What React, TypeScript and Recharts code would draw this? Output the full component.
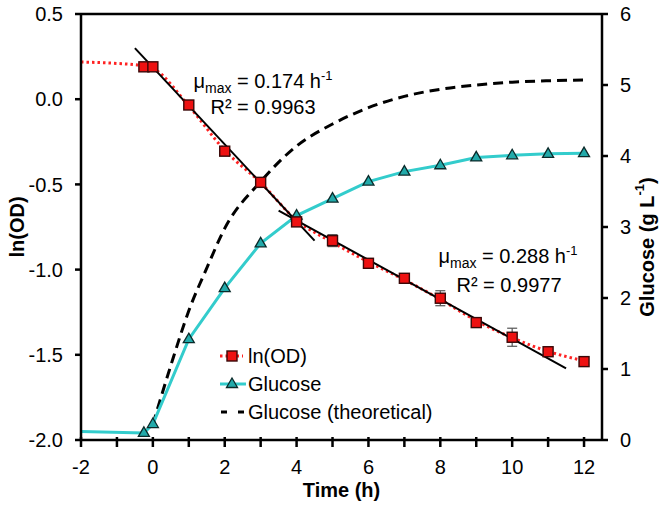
import React from 'react';
import { ComposedChart, Line, XAxis, YAxis, ReferenceLine, ErrorBar, Customized } from 'recharts';

const FONT = '"Liberation Sans", Arial, sans-serif';

// ln(OD) measurements
const odTime = [-0.25, 0, 1, 2, 3, 4, 5, 6, 7, 8, 9, 10, 11, 12];
const odValues = [0.19, 0.19, -0.034, -0.305, -0.488, -0.72, -0.83, -0.963, -1.051, -1.168, -1.311, -1.397, -1.482, -1.54];
const odErrors = [0, 0, 0, 0, 0, 0, 0.035, 0.01, 0.01, 0.044, 0.02, 0.053, 0.01, 0];

// ln(OD) model curve (dotted)
const odCurveTime = [-2, -1, -0.25, 0, 1, 2, 3, 4, 5, 6, 7, 8, 9, 10, 11, 12];
const odCurveValues = [0.218, 0.21, 0.195, 0.18, -0.04, -0.3, -0.49, -0.71, -0.84, -0.955, -1.06, -1.175, -1.3, -1.4, -1.48, -1.535];

// linear fits
const fit1Time = [-0.5, 4.5];
const fit1Values = [0.3, -0.83];
const fit2Time = [3.5, 11.5];
const fit2Values = [-0.654, -1.579];

// Glucose measured
const glucoseTime = [-2, -0.25, 0, 1, 2, 3, 4, 5, 6, 7, 8, 9, 10, 11, 12];
const glucoseValues = [0.12, 0.1, 0.225, 1.42, 2.14, 2.77, 3.16, 3.4, 3.64, 3.78, 3.87, 3.98, 4.01, 4.03, 4.04];

// Glucose theoretical
const theoTime = [0, 0.5, 1, 1.5, 2, 3, 4, 5, 6, 7, 8, 9, 10, 11, 12];
const theoValues = [0.22, 1.05, 1.82, 2.42, 2.98, 3.64, 4.14, 4.45, 4.68, 4.84, 4.94, 5.0, 5.04, 5.06, 5.07];

const xTicks = [-2, -1, 0, 1, 2, 3, 4, 5, 6, 7, 8, 9, 10, 11, 12];
const leftTicks = [-2, -1.5, -1, -0.5, 0, 0.5];
const rightTicks = [0, 1, 2, 3, 4, 5, 6];

const odPoints = odTime.map((t, i) => ({ t, v: odValues[i], e: odErrors[i] }));
const odCurve = odCurveTime.map((t, i) => ({ t, v: odCurveValues[i] }));
const fit1 = fit1Time.map((t, i) => ({ t, v: fit1Values[i] }));
const fit2 = fit2Time.map((t, i) => ({ t, v: fit2Values[i] }));
const glucose = glucoseTime.map((t, i) => ({ t, v: glucoseValues[i] }));
const theo = theoTime.map((t, i) => ({ t, v: theoValues[i] }));

const RED = '#ee1111';
const RED_LINE = '#ff2222';
const CYAN = '#33cccc';
const TEAL = '#22aaaa';

const XTick = (props: any) => {
  const { x, y, payload } = props;
  const v = payload.value;
  return (
    <g>
      <line x1={x} x2={x} y1={y - 5} y2={y + 5} stroke="#000" strokeWidth={2.5} />
      {v % 2 === 0 && (
        <text x={x} y={y + 32} textAnchor="middle" fontSize={20} fill="#000" fontFamily={FONT}>
          {v}
        </text>
      )}
    </g>
  );
};

const SquareDot = (props: any) => {
  const { cx, cy, index } = props;
  if (cx == null || cy == null) return <g key={`s${index}`} />;
  return <rect key={`s${index}`} x={cx - 5} y={cy - 5} width={10} height={10} fill={RED} stroke="#3a0808" strokeWidth={1.4} />;
};

const triPath = (x: number, y: number) => `M${x},${y - 6} L${x + 5.5},${y + 3.5} L${x - 5.5},${y + 3.5} Z`;

const TriDot = (props: any) => {
  const { cx, cy, index, payload } = props;
  if (cx == null || cy == null || (payload && payload.t < -1)) return <g key={`g${index}`} />;
  return <path key={`g${index}`} d={triPath(cx, cy)} fill={TEAL} stroke="#0a2a2a" strokeWidth={1.3} />;
};

const Annotations = () => (
  <g fontFamily={FONT} fill="#000">
    <text x={17} y={227} transform="rotate(-90 17 227)" textAnchor="middle" dominantBaseline="central" fontSize={20} fontWeight="bold">
      ln(OD)
    </text>
    <text x={647} y={247} transform="rotate(-90 647 247)" textAnchor="middle" dominantBaseline="central" fontSize={20} fontWeight="bold">
      Glucose (g L<tspan fontSize={13} dy={-8}>-1</tspan>
      <tspan dy={8}>)</tspan>
    </text>
    <text x={341.5} y={497} textAnchor="middle" fontSize={20} fontWeight="bold">
      Time (h)
    </text>

    <text x={263} y={88} textAnchor="middle" fontSize={20}>
      μ<tspan fontSize={14} dy={5}>max</tspan>
      <tspan dy={-5}> = 0.174 h</tspan>
      <tspan fontSize={13} dy={-8}>-1</tspan>
    </text>
    <text x={263} y={114} textAnchor="middle" fontSize={20}>
      R² = 0.9963
    </text>
    <text x={508} y={263} textAnchor="middle" fontSize={20}>
      μ<tspan fontSize={14} dy={5}>max</tspan>
      <tspan dy={-5}> = 0.288 h</tspan>
      <tspan fontSize={13} dy={-8}>-1</tspan>
    </text>
    <text x={509} y={292} textAnchor="middle" fontSize={20}>
      R² = 0.9977
    </text>

    {/* legend */}
    <line x1={220} x2={243} y1={356} y2={356} stroke={RED_LINE} strokeWidth={3} strokeDasharray="2.5 3" />
    <rect x={227} y={351} width={10} height={10} fill={RED} stroke="#3a0808" strokeWidth={1.4} />
    <text x={248} y={363} fontSize={20}>ln(OD)</text>

    <line x1={220} x2={246} y1={384} y2={384} stroke={CYAN} strokeWidth={3} />
    <path d={triPath(232, 384)} fill={TEAL} stroke="#0a2a2a" strokeWidth={1.3} />
    <text x={248} y={391} fontSize={20}>Glucose</text>

    <line x1={221} x2={244} y1={412} y2={412} stroke="#000" strokeWidth={3} strokeDasharray="6 11" />
    <text x={248} y={419} fontSize={20}>Glucose (theoretical)</text>
  </g>
);

export default function App() {
  return (
    <div style={{ position: 'absolute', left: 0, top: 0, width: 664, height: 509, background: '#fff' }}>
      <ComposedChart width={664} height={509} margin={{ top: 14, right: 0, bottom: 0, left: 0 }} style={{ fontFamily: FONT }}>
        <XAxis
          type="number"
          dataKey="t"
          domain={[-2, 12.5]}
          ticks={xTicks}
          interval={0}
          tick={<XTick />}
          tickSize={0}
          tickLine={false}
          axisLine={{ stroke: '#000', strokeWidth: 2.5 }}
          height={69}
          allowDataOverflow
        />
        <YAxis
          yAxisId="left"
          type="number"
          domain={[-2, 0.5]}
          ticks={leftTicks}
          interval={0}
          width={81}
          tickSize={6}
          tickMargin={12}
          tickFormatter={(v: number) => v.toFixed(1)}
          tick={{ fill: '#000', fontSize: 20, fontFamily: FONT }}
          tickLine={{ stroke: '#000', strokeWidth: 2.5 }}
          axisLine={{ stroke: '#000', strokeWidth: 2.5 }}
          allowDataOverflow
        />
        <YAxis
          yAxisId="right"
          orientation="right"
          type="number"
          domain={[0, 6]}
          ticks={rightTicks}
          interval={0}
          width={62}
          tickSize={6}
          tickMargin={12}
          tick={{ fill: '#000', fontSize: 20, fontFamily: FONT }}
          tickLine={{ stroke: '#000', strokeWidth: 2.5 }}
          axisLine={{ stroke: '#000', strokeWidth: 2.5 }}
          allowDataOverflow
        />
        <ReferenceLine yAxisId="left" y={0.5} stroke="#000" strokeWidth={2.5} ifOverflow="visible" />

        <Line yAxisId="right" data={theo} dataKey="v" type="monotone" stroke="#000" strokeWidth={3} strokeDasharray="10 6" dot={false} isAnimationActive={false} />
        <Line yAxisId="right" data={glucose} dataKey="v" type="linear" stroke={CYAN} strokeWidth={3} dot={TriDot} isAnimationActive={false} />
        <Line yAxisId="left" data={odCurve} dataKey="v" type="monotone" stroke={RED_LINE} strokeWidth={3} strokeDasharray="2.5 3" dot={false} isAnimationActive={false} />
        <Line yAxisId="left" data={odPoints} dataKey="v" stroke="none" dot={SquareDot} isAnimationActive={false}>
          <ErrorBar dataKey="e" direction="y" width={5} stroke="#555" strokeWidth={1.2} />
        </Line>
        <Line yAxisId="left" data={fit1} dataKey="v" type="linear" stroke="#000" strokeWidth={2} dot={false} isAnimationActive={false} />
        <Line yAxisId="left" data={fit2} dataKey="v" type="linear" stroke="#000" strokeWidth={2} dot={false} isAnimationActive={false} />

        <Customized component={<Annotations />} />
      </ComposedChart>
    </div>
  );
}
